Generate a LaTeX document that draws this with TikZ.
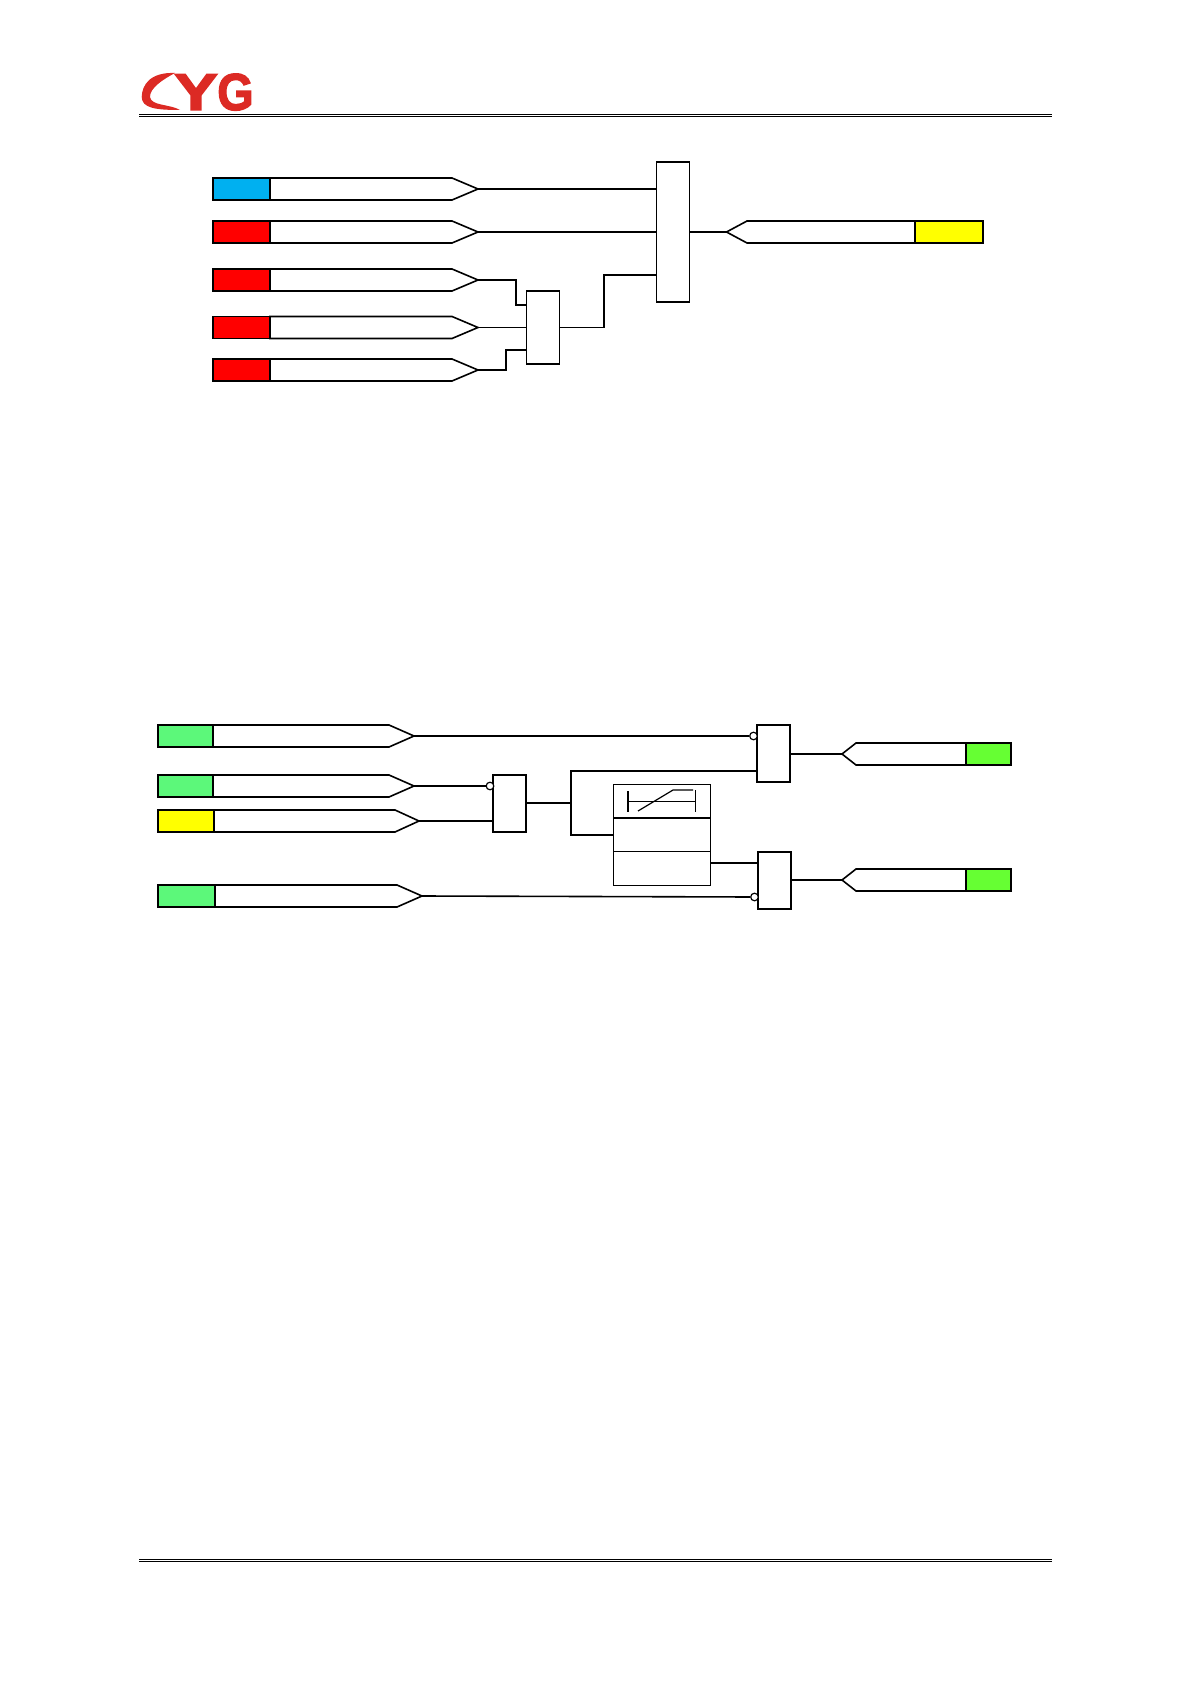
\documentclass[tikz,border=0pt]{standalone}
\usepackage{fontspec}
\setmainfont{Liberation Sans}
\newfontfamily\logofont[BoldFeatures={FakeBold=2.5}]{Liberation Sans}
\usepackage{tikz}
\usetikzlibrary{positioning,calc}
\definecolor{sigblue}{RGB}{0,176,240}
\definecolor{sigred}{RGB}{255,0,0}
\definecolor{sigyellow}{RGB}{255,255,0}
\definecolor{siggreen}{RGB}{92,248,122}
\definecolor{outgreen}{RGB}{102,255,51}
\definecolor{logored}{RGB}{220,42,36}

% signal tags: colour box, then a body with a point on one side
\newcommand{\sigin}[6]{%
  \node[cellbox, fill=#2, minimum width={(#3-\sigx)*0.5pt}, anchor=west] (#1c) at (\sigx,#6) {};
  \draw[wire, fill=white] (#1c.north east) -- (#4,#6-11) -- (#5,#6) -- (#4,#6+11) -- (#1c.south east) -- cycle;
  \coordinate (#1) at (#5,#6);}
\newcommand{\sigout}[6]{%
  \node[cellbox, fill=#2, minimum width={(\sigend-#3)*0.5pt}, anchor=east] (#1c) at (\sigend,#6) {};
  \draw[wire, fill=white] (#1c.north west) -- (#4,#6-11) -- (#5,#6) -- (#4,#6+11) -- (#1c.south west) -- cycle;
  \coordinate (#1) at (#5,#6);}

\begin{document}
\begin{tikzpicture}[x=0.5pt, y=-0.5pt,
  wire/.style={line width=0.8pt, black, line join=miter},
  cellbox/.style={rectangle, draw=black, line width=0.8pt, minimum height=11pt, inner sep=0pt, outer sep=0pt},
  gate/.style={rectangle, draw=black, line width=0.8pt, fill=white, minimum width=16.5pt, inner sep=0pt, outer sep=0pt, anchor=north west},
  nubble/.style={circle, draw=black, line width=0.6pt, fill=white, inner sep=0pt, minimum size=3.8pt},
  rulethin/.style={line width=0.6pt, black},
  rulethick/.style={line width=0.8pt, black},
  logoletter/.style={font=\fontsize{26}{26}\logofont\bfseries, text=logored, inner sep=0pt}
]
  \useasboundingbox (0,0) rectangle (1191,1684);

  % header
  \fill[logored] (175,73) .. controls (150,72) and (142,85) .. (141.7,97)
    .. controls (142,108) and (155,110) .. (180,110)
    .. controls (170,104) and (151,106) .. (150,97)
    .. controls (150,88) and (162,80) .. (175,73) -- cycle;
  \node[logoletter, xscale=1.27, anchor=base] (logoy) at (196,110) {Y};
  \node[logoletter, xscale=0.9, anchor=base] (logog) at (235.5,110) {G};
  \draw[rulethin]  (139,114.4) -- (1052,114.4);
  \draw[rulethick] (139,116.4) -- (1052,116.4);
  \draw[rulethick] (139,1559.5) -- (1052,1559.5);
  \draw[rulethick] (139,1561.6) -- (1052,1561.6);

  % upper diagram
  \def\sigx{213}
  \sigin{ina}{sigblue}{270}{452}{478}{189}
  \sigin{inb}{sigred}{270}{452}{478}{232}
  \sigin{inc}{sigred}{270}{452}{478}{280}
  \sigin{ind}{sigred}{270}{452}{478}{327.5}
  \sigin{ine}{sigred}{270}{452}{478}{370}

  \node[gate, minimum height=70pt] (big) at (656.5,162) {};
  \node[gate, minimum height=36.5pt] (small) at (526.5,291) {};

  \draw[wire] (ina) -- (ina -| big.west);
  \draw[wire] (inb) -- (inb -| big.west);
  \draw[wire] (inc) -- (516,280) -- (516,305) -- (526.5,305);
  \draw[wire] (ind) -- (ind -| small.west);
  \draw[wire] (ine) -- (506,370) -- (506,350) -- (526.5,350);
  \draw[wire] (small.east |- ind) -- (604,327.5) -- (604,275) -- (656.5,275);

  \def\sigend{983}
  \sigout{oute}{sigyellow}{915}{747}{726.5}{232}
  \draw[wire] (big.east |- oute) -- (oute);

  % lower diagram
  \def\sigx{158}
  \sigin{inf}{siggreen}{213}{389}{414}{736}
  \sigin{ing}{siggreen}{213}{389}{414}{786}
  \sigin{inh}{sigyellow}{214}{395}{419}{821}
  \sigin{ini}{siggreen}{215}{397}{422}{896}

  \node[gate, minimum height=28.5pt] (nora) at (493,775) {};
  \node[gate, minimum height=28.5pt] (norb) at (757,725) {};
  \node[gate, minimum height=28.5pt] (norc) at (758,852) {};
  \node[nubble] (buba) at (490,786) {};
  \node[nubble] (bubb) at (753.5,736) {};
  \node[nubble] (bubc) at (754.5,897) {};

  \draw[wire] (inf) -- (bubb);
  \draw[wire] (ing) -- (buba);
  \draw[wire] (inh) -- (inh -| nora.west);
  \draw[wire] (ini) -- (bubc);

  % delay box
  \node[gate, minimum width=48.5pt, minimum height=50.5pt] (dly) at (613.5,784.5) {};
  \draw[wire] (613.5,818) -- (710.5,818);
  \draw[wire] (613.5,851.5) -- (710.5,851.5);
  \draw[line width=1pt] (628,791) -- (628,812);
  \draw[line width=0.5pt] (628,801) -- (695,801);
  \draw[line width=0.5pt] (695,790) -- (695,812);
  \draw[line width=0.6pt] (638,811) -- (673,790) -- (693,790);

  \coordinate (junc) at (571,803);
  \draw[wire] (nora.east |- junc) -- (junc);
  \draw[wire] (norb.west |- 0,771) -- (571,771) -- (571,835) -- (dly.west |- 0,835);
  \draw[wire] (dly.east |- 0,863) -- (norc.west |- 0,863);

  \def\sigend{1011}
  \sigout{outa}{outgreen}{966}{856}{842}{754}
  \sigout{outb}{outgreen}{966}{856}{842}{880}
  \draw[wire] (norb.east |- outa) -- (outa);
  \draw[wire] (norc.east |- outb) -- (outb);
\end{tikzpicture}
\end{document}
